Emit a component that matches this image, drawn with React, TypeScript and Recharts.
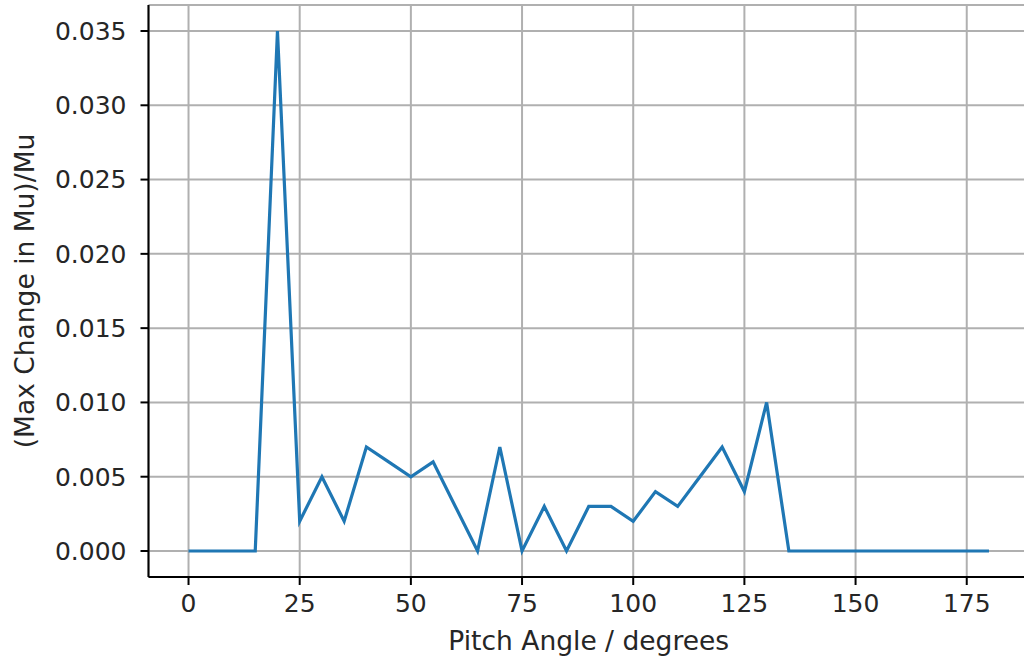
import React from "react";
import { LineChart, Line, XAxis, YAxis, CartesianGrid, Label } from "recharts";

const pitchAngles = [0, 5, 10, 15, 20, 25, 30, 35, 40, 45, 50, 55, 60, 65, 70, 75, 80, 85, 90, 95, 100, 105, 110, 115, 120, 125, 130, 135, 140, 145, 150, 155, 160, 165, 170, 175, 180];
const maxChange = [0, 0, 0, 0, 0.035, 0.002, 0.005, 0.002, 0.007, 0.006, 0.005, 0.006, 0.003, 0, 0.007, 0, 0.003, 0, 0.003, 0.003, 0.002, 0.004, 0.003, 0.005, 0.007, 0.004, 0.010, 0, 0, 0, 0, 0, 0, 0, 0, 0, 0];
const xTicks = [0, 25, 50, 75, 100, 125, 150, 175];
const yTicks = [0, 0.005, 0.01, 0.015, 0.02, 0.025, 0.03, 0.035];
const xLabel = "Pitch Angle / degrees";
const yLabel = "(Max Change in Mu)/Mu";

const data = pitchAngles.map((a, i) => ({ angle: a, value: maxChange[i] }));

const FONT = "DejaVu Sans";
const FS = 25;
const LFS = 26.5;

export default function App() {
  return (
    <div style={{ position: "absolute", left: 0, top: 0, width: 1024, height: 659, overflow: "hidden", background: "#fff" }}>
      <LineChart width={1040} height={659} data={data} margin={{ top: 5, right: 11, bottom: 0, left: 0 }}>
        <CartesianGrid stroke="#b0b0b0" strokeWidth={2} vertical horizontal />
        <XAxis
          xAxisId="top"
          orientation="top"
          dataKey="angle"
          type="number"
          domain={[-9, 189]}
          ticks={xTicks}
          allowDataOverflow
          height={0}
          tick={false}
          tickLine={false}
          axisLine={{ stroke: "#000", strokeWidth: 2 }}
        />
        <XAxis
          dataKey="angle"
          type="number"
          domain={[-9, 189]}
          ticks={xTicks}
          allowDataOverflow
          height={82}
          tickSize={8}
          tickMargin={9}
          axisLine={{ stroke: "#000", strokeWidth: 2 }}
          tickLine={{ stroke: "#000", strokeWidth: 2 }}
          tick={{ fill: "#262626", fontSize: FS, fontFamily: FONT }}
        >
          <Label
            content={({ viewBox }: any) => (
              <text x={viewBox.x + viewBox.width / 2} y={650} textAnchor="middle" fontFamily={FONT} fontSize={LFS} fill="#262626">
                {xLabel}
              </text>
            )}
          />
        </XAxis>
        <YAxis
          type="number"
          domain={[-0.00175, 0.03675]}
          ticks={yTicks}
          allowDataOverflow
          width={148.5}
          tickSize={8}
          tickMargin={14}
          tickFormatter={(v: number) => v.toFixed(3)}
          axisLine={{ stroke: "#000", strokeWidth: 2 }}
          tickLine={{ stroke: "#000", strokeWidth: 2 }}
          tick={{ fill: "#262626", fontSize: FS, fontFamily: FONT }}
        >
          <Label
            content={({ viewBox }: any) => {
              const cx = 34;
              const cy = viewBox.y + viewBox.height / 2;
              return (
                <text x={cx} y={cy} transform={`rotate(-90, ${cx}, ${cy})`} textAnchor="middle" fontFamily={FONT} fontSize={LFS} fill="#262626">
                  {yLabel}
                </text>
              );
            }}
          />
        </YAxis>
        <Line type="linear" dataKey="value" stroke="#1f77b4" strokeWidth={3.2} dot={false} isAnimationActive={false} />
      </LineChart>
    </div>
  );
}
